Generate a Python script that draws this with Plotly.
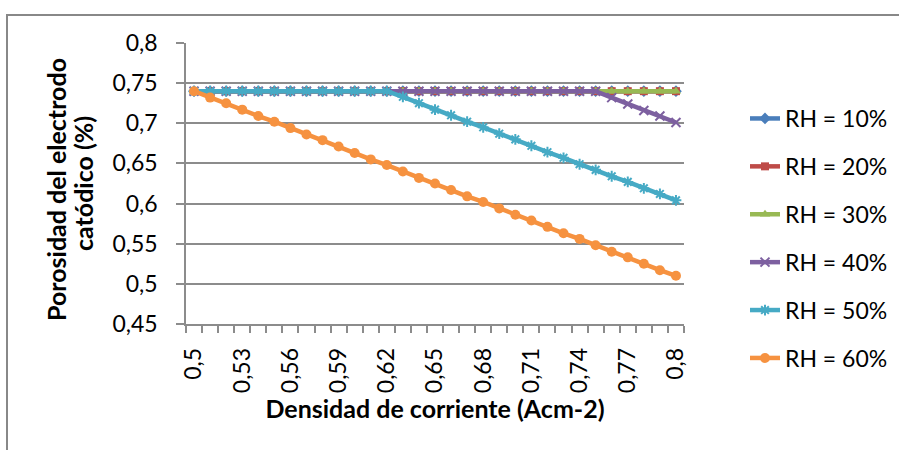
import plotly.graph_objects as go

# Current density categories (A/cm2)
densidad = [0.50, 0.51, 0.52, 0.53, 0.54, 0.55, 0.56, 0.57, 0.58, 0.59,
            0.60, 0.61, 0.62, 0.63, 0.64, 0.65, 0.66, 0.67, 0.68, 0.69,
            0.70, 0.71, 0.72, 0.73, 0.74, 0.75, 0.76, 0.77, 0.78, 0.79, 0.80]

# Cathode electrode porosity for each relative humidity
rh_10 = [0.740] * 31
rh_20 = [0.740] * 31
rh_30 = [0.740] * 31
rh_40 = [0.740, 0.740, 0.740, 0.740, 0.740, 0.740, 0.740, 0.740, 0.740, 0.740,
         0.740, 0.740, 0.740, 0.740, 0.740, 0.740, 0.740, 0.740, 0.740, 0.740,
         0.740, 0.740, 0.740, 0.740, 0.740, 0.740, 0.732, 0.724, 0.716, 0.709, 0.701]
rh_50 = [0.740, 0.740, 0.740, 0.740, 0.740, 0.740, 0.740, 0.740, 0.740, 0.740,
         0.740, 0.740, 0.740, 0.733, 0.725, 0.717, 0.710, 0.702, 0.695, 0.687,
         0.680, 0.672, 0.664, 0.657, 0.649, 0.642, 0.634, 0.627, 0.619, 0.612, 0.604]
rh_60 = [0.740, 0.732, 0.725, 0.717, 0.709, 0.702, 0.694, 0.686, 0.679, 0.671,
         0.663, 0.655, 0.648, 0.640, 0.632, 0.625, 0.617, 0.609, 0.602, 0.594,
         0.586, 0.579, 0.571, 0.563, 0.556, 0.548, 0.540, 0.533, 0.525, 0.517, 0.510]

series_names = ["RH = 10%", "RH = 20%", "RH = 30%", "RH = 40%", "RH = 50%", "RH = 60%"]
series_values = [rh_10, rh_20, rh_30, rh_40, rh_50, rh_60]

x_tick_vals = [0.50, 0.53, 0.56, 0.59, 0.62, 0.65, 0.68, 0.71, 0.74, 0.77, 0.80]
x_tick_text = ["0,5", "0,53", "0,56", "0,59", "0,62", "0,65", "0,68", "0,71", "0,74", "0,77", "0,8"]
y_tick_vals = [0.45, 0.50, 0.55, 0.60, 0.65, 0.70, 0.75, 0.80]
y_tick_text = ["0,45", "0,5", "0,55", "0,6", "0,65", "0,7", "0,75", "0,8"]

x_title = "Densidad de corriente (Acm-2)"
y_title_lines = ["Porosidad del electrodo", "catódico (%)"]

colors = ["#4A7EBB", "#BE4B48", "#98B954", "#7D60A0", "#46AAC5", "#F69240"]
markers = [
    dict(symbol="diamond", size=9),
    dict(symbol="square", size=8),
    dict(symbol="triangle-up", size=9),
    dict(symbol="x-thin-open", size=9, line=dict(width=2)),
    dict(symbol="asterisk-open", size=9, line=dict(width=2)),
    dict(symbol="circle", size=10),
]

W, H = 899, 450
L, R, T, B = 186, 215, 43, 126
pw, ph = W - L - R, H - T - B

FONT = "Lato, 'Open Sans', sans-serif"
TICK_SIZE = 23
TITLE_SIZE = 25

fig = go.Figure()
for i, (name, vals) in enumerate(zip(series_names, series_values)):
    mk = dict(color=colors[i], **markers[i])
    if "line" in mk:
        mk["line"] = dict(color=colors[i], width=mk["line"]["width"])
    fig.add_trace(go.Scatter(
        x=densidad, y=vals, name=name, mode="lines+markers",
        line=dict(color=colors[i], width=4.5),
        marker=mk, legendgroup=f"g{i}",
    ))

# minor tick positions between categories
minor_ticks = [round(0.495 + 0.01 * k, 3) for k in range(32)]

fig.update_layout(
    width=W, height=H,
    margin=dict(l=L, r=R, t=T, b=B, autoexpand=False),
    paper_bgcolor="white", plot_bgcolor="white",
    font=dict(family=FONT, size=TICK_SIZE, color="black"),
    showlegend=True,
    legend=dict(
        x=(745 - L) / pw, xanchor="left",
        y=(H - B - 97) / ph, yanchor="top",
        tracegroupgap=15, traceorder="grouped", maxheight=420,
        font=dict(size=TICK_SIZE, color="black"),
        bgcolor="rgba(0,0,0,0)",
    ),
    xaxis=dict(
        range=[0.495, 0.805],
        tickmode="array", tickvals=x_tick_vals, ticktext=x_tick_text,
        tickangle=-90, ticks="", showgrid=False, zeroline=False,
        showline=True, linecolor="#8C8C8C", linewidth=1.5,
        ticklabelstandoff=13,
        minor=dict(tickmode="array", tickvals=minor_ticks, ticks="outside",
                   ticklen=7, tickwidth=1.5, tickcolor="#8C8C8C", showgrid=False),
        title=dict(text=f"<b>{x_title}</b>",
                   font=dict(size=TITLE_SIZE, family=FONT), standoff=8),
    ),
    yaxis=dict(
        range=[0.45, 0.8],
        tickmode="array", tickvals=y_tick_vals, ticktext=y_tick_text,
        ticks="outside", ticklen=8, tickwidth=1.5, tickcolor="#8C8C8C",
        showgrid=True, gridcolor="#8C8C8C", gridwidth=1.5, zeroline=False,
        showline=True, linecolor="#8C8C8C", linewidth=1.5,
        ticklabelstandoff=14,
    ),
)

# two-line vertical y-axis title, with tighter line spacing
for text, px, py in zip(y_title_lines, [56, 83], [190, 184]):
    fig.add_annotation(
        text=f"<b>{text}</b>", textangle=-90,
        xref="paper", yref="paper",
        x=(px - L) / pw, y=(H - B - py) / ph,
        xanchor="center", yanchor="middle", showarrow=False,
        font=dict(size=TITLE_SIZE, family=FONT, color="black"),
    )

# outer chart-area border
fig.add_shape(
    type="rect", xref="paper", yref="paper",
    x0=(7 - L) / pw, x1=(W + 10 - L) / pw,
    y0=(H - B - (H + 10)) / ph, y1=(H - B - 15) / ph,
    line=dict(color="#888888", width=2), fillcolor="rgba(0,0,0,0)",
    layer="below",
)

fig.write_html("out.html")
